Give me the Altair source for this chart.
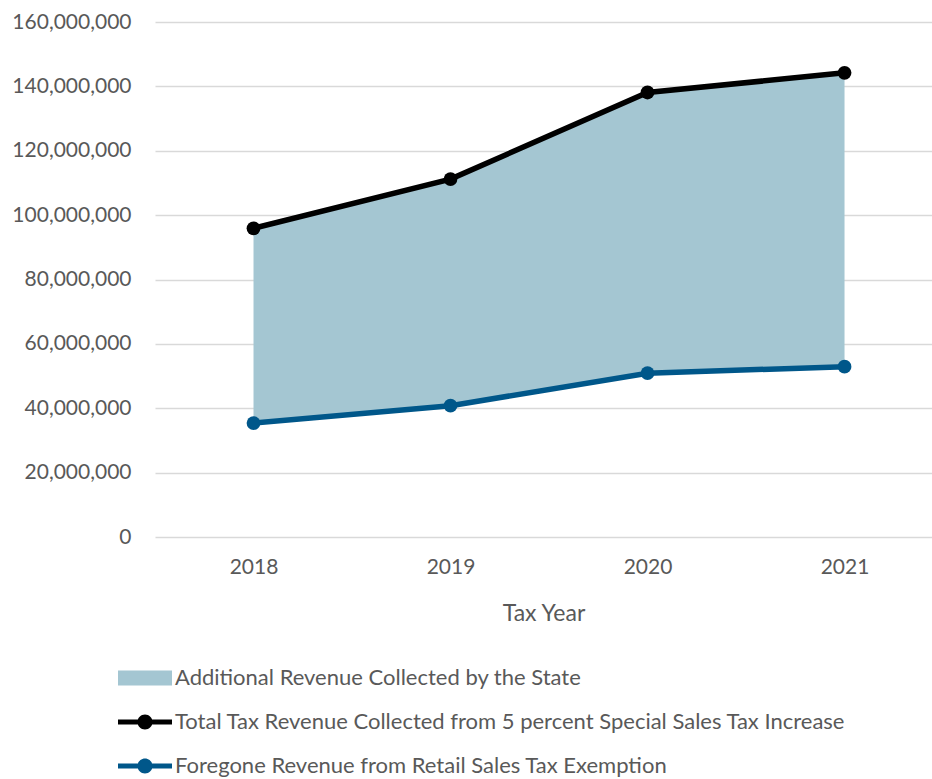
import altair as alt
import pandas as pd

years = [2018, 2019, 2020, 2021]
total_revenue = [95_900_000, 111_200_000, 138_100_000, 144_200_000]
foregone_revenue = [35_400_000, 40_800_000, 50_900_000, 52_900_000]
series_names = [
    "Additional Revenue Collected by the State",
    "Total Tax Revenue Collected from 5 percent Special Sales Tax Increase",
    "Foregone Revenue from Retail Sales Tax Exemption",
]
series_colors = ["#A4C6D2", "#000000", "#00578A"]

FONT = "Lato"
GREY = "#595959"

df = pd.DataFrame({"year": years, "total": total_revenue, "foregone": foregone_revenue})
legend_df = pd.DataFrame({"series": series_names, "year": [years[0]] * 3, "v": [0] * 3})

x_scale = alt.Scale(domain=[2017.5, 2021.444], nice=False, zero=False)
y_scale = alt.Scale(domain=[0, 160_000_000], nice=False)

x_enc = alt.X(
    "year:Q",
    scale=x_scale,
    axis=alt.Axis(
        values=years, format="d", grid=False, domain=False, ticks=False,
        labelFontSize=21, labelColor=GREY, labelFont=FONT, labelPadding=19,
        title="Tax Year", titleFontSize=23, titleFont=FONT, titleColor=GREY,
        titleFontWeight="normal", titlePadding=25,
    ),
)
y_axis = alt.Axis(
    values=list(range(0, 160_000_001, 20_000_000)), format=",d",
    grid=True, gridColor="#D9D9D9", gridWidth=1.5, domain=False, ticks=False,
    labelFontSize=21, labelColor=GREY, labelFont=FONT, labelPadding=24, title=None,
)

base = alt.Chart(df)

area = base.mark_area(color=series_colors[0], opacity=1).encode(
    x=x_enc,
    y=alt.Y("total:Q", scale=y_scale, axis=y_axis),
    y2="foregone:Q",
)

line_total = base.mark_line(color=series_colors[1], strokeWidth=5.5).encode(
    x="year:Q", y="total:Q"
)
pts_total = base.mark_circle(color=series_colors[1], size=190, opacity=1).encode(
    x="year:Q", y="total:Q"
)
line_fore = base.mark_line(color=series_colors[2], strokeWidth=5.5).encode(
    x="year:Q", y="foregone:Q"
)
pts_fore = base.mark_circle(color=series_colors[2], size=190, opacity=1).encode(
    x="year:Q", y="foregone:Q"
)

# legend symbols: unit = 8px (symbol size 256 -> side 16)
rect_path = "M-3.375,-0.94 L3.375,-0.94 L3.375,0.94 L-3.375,0.94 Z"
line_dot_path = (
    "M-3.375,-0.3125 L3.375,-0.3125 L3.375,0.3125 L-3.375,0.3125 Z "
    "M0.94,0 A0.94,0.94 0 1,1 -0.94,0 A0.94,0.94 0 1,1 0.94,0 Z"
)

legend_props = dict(
    title=None, orient="none", direction="vertical",
    legendX=-21, legendY=645, padding=0,
    labelFontSize=22, labelColor=GREY, labelFont=FONT, labelLimit=1000,
    labelOffset=19, rowPadding=22, symbolSize=256, symbolOpacity=1,
    symbolStrokeWidth=0,
)

legend_layer = alt.Chart(legend_df).mark_point(filled=True, opacity=0, size=256).encode(
    x="year:Q",
    y="v:Q",
    color=alt.Color(
        "series:N",
        scale=alt.Scale(domain=series_names, range=series_colors),
        legend=alt.Legend(**legend_props),
    ),
    shape=alt.Shape(
        "series:N",
        scale=alt.Scale(domain=series_names, range=[rect_path, line_dot_path, line_dot_path]),
        legend=alt.Legend(**legend_props),
    ),
)

chart = (
    alt.layer(area, line_total, line_fore, pts_total, pts_fore, legend_layer)
    .properties(
        width=777, height=515,
        padding={"left": 155, "top": 22, "right": 0, "bottom": 242},
        autosize=alt.AutoSizeParams(type="none"),
        background="white",
    )
    .configure_view(stroke=None)
)

chart.save("out.html", embed_options={"renderer": "svg", "actions": False})
